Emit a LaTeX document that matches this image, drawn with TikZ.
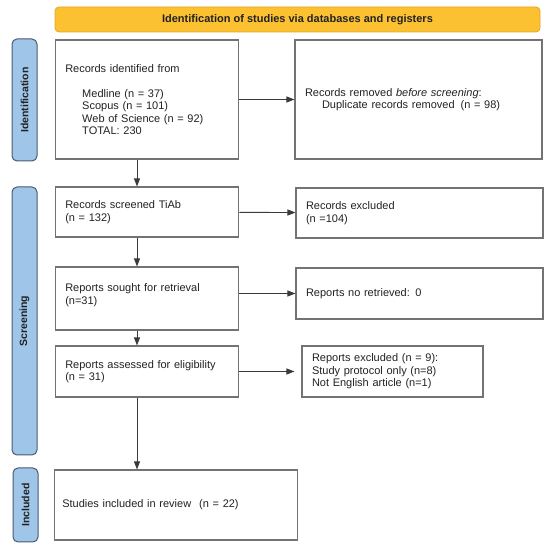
\documentclass[tikz,border=0pt]{standalone}
\usepackage{fontspec}
\setmainfont{Liberation Sans}
\usetikzlibrary{arrows.meta}
\definecolor{bannerfill}{HTML}{FBC131}
\definecolor{bannerline}{HTML}{E2A724}
\definecolor{phasefill}{HTML}{9FC5E8}
\definecolor{phaseline}{HTML}{4A5A6E}
\definecolor{boxline}{HTML}{737373}
\definecolor{arrline}{HTML}{3A3A3A}
\definecolor{txt}{HTML}{222222}
\tikzset{
  recbox/.style={draw=boxline, line width=1.1pt, fill=white, align=left,
    inner xsep=10pt, inner ysep=0pt, text=txt, font=\fontsize{11}{12.5}\selectfont},
  phase/.style={draw=phaseline, line width=1pt, fill=phasefill, rounded corners=5pt,
    rotate=90, inner sep=0pt, text=txt, font=\bfseries\fontsize{10.5}{12}\selectfont},
  banner/.style={draw=bannerline, line width=0.8pt, fill=bannerfill, rounded corners=4pt,
    inner sep=0pt, text=txt, font=\bfseries\fontsize{11}{12}\selectfont},
  arr/.style={draw=arrline, line width=0.9pt, -{Triangle[length=8pt,width=6pt]}}
}
\begin{document}
\begin{tikzpicture}[x=1pt,y=-1pt]
  \useasboundingbox (0,0) rectangle (550,548);
  \draw
    (297.5,19.5) node[banner, minimum width=485pt, minimum height=25pt] (head)
      {Identification of studies via databases and registers}
    (24.5,100) node[phase, minimum width=122pt, minimum height=25pt] (idphase) {Identification}
    (24.5,321) node[phase, minimum width=268pt, minimum height=25pt] (scrphase) {Screening}
    (25.5,505) node[phase, minimum width=74pt, minimum height=25pt] (incphase) {Included}
    (147,99.5) node[recbox, text width=163.5pt, minimum height=119pt] (ident)
      {Records identified from\\[12.5pt]
       \hspace*{17pt}Medline (n = 37)\\
       \hspace*{17pt}Scopus (n = 101)\\
       \hspace*{17pt}Web of Science (n = 92)\\
       \hspace*{17pt}TOTAL: 230}
    (418.5,99.5) node[recbox, text width=227pt, minimum height=119pt] (removed)
      {Records removed \textit{before screening}:\\
       \hspace*{17pt}Duplicate records removed\hspace{6pt}(n = 98)}
    (147,212) node[recbox, text width=163.5pt, minimum height=50pt] (screened)
      {Records screened TiAb\\(n = 132)}
    (419.5,213) node[recbox, text width=227pt, minimum height=50pt] (excluded)
      {Records excluded\\(n =104)}
    (147,298.5) node[recbox, text width=163.5pt, minimum height=63pt] (sought)
      {Reports sought for retrieval\\(n=31)\\[-4pt]\mbox{}}
    (419.5,293.5) node[recbox, text width=227pt, minimum height=51pt] (notretr)
      {Reports no retrieved: 0}
    (147,371.5) node[recbox, text width=163.5pt, minimum height=51pt] (assessed)
      {Reports assessed for eligibility\\(n = 31)}
    (392.5,371.5) node[recbox, text width=161pt, minimum height=51pt] (repexcl)
      {Reports excluded (n = 9):\\
       Study protocol only (n=8)\\
       Not English article (n=1)}
    (176,505) node[recbox, inner xsep=8pt, text width=227.5pt, minimum height=70pt] (included)
      {Studies included in review\hspace{8pt}(n = 22)};
  \begin{scope}[arr]
    \draw (ident) to (removed);
    \draw ([xshift=-10pt]ident.south) to ([xshift=-10pt]screened.north);
    \draw (screened) to (excluded);
    \draw ([xshift=-10pt]screened.south) to ([xshift=-10pt]sought.north);
    \draw (sought.east |- notretr.west) to (notretr.west);
    \draw ([xshift=-10pt]sought.south) to ([xshift=-10pt]assessed.north);
    \draw[shorten >=7pt] (assessed) to (repexcl);
    \draw ([xshift=-10pt]assessed.south) to ([xshift=-10pt]assessed.south |- included.north);
  \end{scope}
\end{tikzpicture}
\end{document}
